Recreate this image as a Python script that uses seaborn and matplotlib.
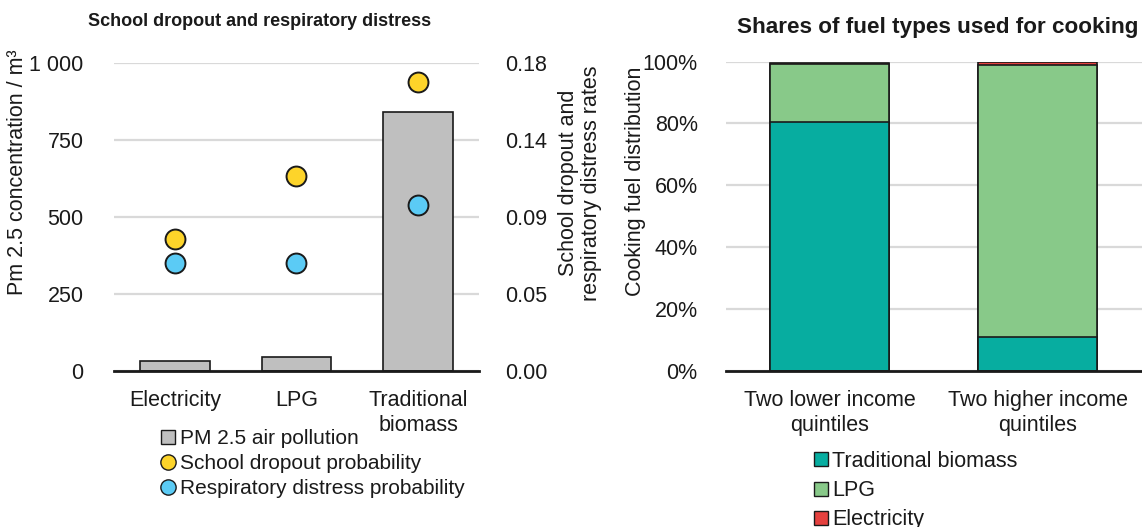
import numpy as np
import pandas as pd
import matplotlib
matplotlib.use("Agg")
import matplotlib.pyplot as plt
from matplotlib.lines import Line2D
import seaborn as sns

# ---- data -------------------------------------------------------------
fuels = ["Electricity", "LPG", "Traditional biomass"]
fuel_labels = ["Electricity", "LPG", "Traditional\nbiomass"]
pm25 = [32, 44, 843]                       # PM 2.5 concentration
dropout_prob = [0.077, 0.114, 0.169]       # school dropout probability
respiratory_prob = [0.063, 0.063, 0.097]   # respiratory distress probability

pm_ticks = [0, 250, 500, 750, 1000]
pm_ticklabels = ["0", "250", "500", "750", "1 000"]
rate_ticks = [0.0, 0.045, 0.09, 0.135, 0.18]
rate_ticklabels = ["0.00", "0.05", "0.09", "0.14", "0.18"]

groups = ["Two lower income quintiles", "Two higher income quintiles"]
group_labels = ["Two lower income\nquintiles", "Two higher income\nquintiles"]
share_biomass = [0.804, 0.110]
share_lpg = [0.188, 0.880]
share_electricity = [0.003, 0.008]
share_ticks = [0, 0.2, 0.4, 0.6, 0.8, 1.0]
share_ticklabels = ["0%", "20%", "40%", "60%", "80%", "100%"]

# ---- style ------------------------------------------------------------
sns.set_theme(style="white")
plt.rcParams["font.family"] = ["Liberation Sans", "DejaVu Sans"]
plt.rcParams["text.color"] = "#1a1a1a"

C_GRAY = "#bfbfbf"
C_YELLOW = "#fdd42a"
C_BLUE = "#5bcbf5"
C_TEAL = "#07ada0"
C_GREEN = "#88c989"
C_RED = "#e5413f"
C_GRID = "#d9d9d9"
C_EDGE = "#1a1a1a"

W, H = 1142, 527
fig = plt.figure(figsize=(W / 100, H / 100), dpi=100)

def frac_box(x0, y_top, x1, y_bot):
    return [x0 / W, 1 - y_bot / H, (x1 - x0) / W, (y_bot - y_top) / H]

TICK_FS = 15.5

def style_axis(ax):
    for s in ["left", "right", "top"]:
        ax.spines[s].set_visible(False)
    ax.spines["bottom"].set_visible(True)
    ax.spines["bottom"].set_color(C_EDGE)
    ax.spines["bottom"].set_linewidth(2.0)
    ax.grid(axis="y", color=C_GRID, linewidth=1.6)
    ax.grid(axis="x", visible=False)
    ax.set_axisbelow(True)
    ax.tick_params(axis="both", length=0, labelsize=TICK_FS, colors="#1a1a1a")

# ---- left panel: PM 2.5 bars with probabilities on a secondary axis ---
ax1 = fig.add_axes(frac_box(114, 63.3, 479, 371))
df_pm = pd.DataFrame({"fuel": fuels, "pm": pm25})
sns.barplot(data=df_pm, x="fuel", y="pm", ax=ax1, color=C_GRAY,
            saturation=1, width=0.57, edgecolor=C_EDGE, linewidth=1.2)
style_axis(ax1)
ax1.set_xlim(-0.5, 2.5)
ax1.set_ylim(0, 1000)
ax1.set_yticks(pm_ticks)
ax1.set_yticklabels(pm_ticklabels)
ax1.set_xticks(range(len(fuels)))
ax1.set_xticklabels(fuel_labels, linespacing=1.25)
ax1.tick_params(axis="x", pad=14)
ax1.tick_params(axis="y", pad=22)
ax1.set_xlabel("")
ax1.set_ylabel("")

ax2 = ax1.twinx()
df_rate = pd.DataFrame({"fuel": fuels, "dropout": dropout_prob,
                        "resp": respiratory_prob})
sns.scatterplot(data=df_rate, x="fuel", y="dropout", ax=ax2, color=C_YELLOW,
                s=205, edgecolor=C_EDGE, linewidth=1.4, zorder=5, legend=False)
sns.scatterplot(data=df_rate, x="fuel", y="resp", ax=ax2, color=C_BLUE,
                s=205, edgecolor=C_EDGE, linewidth=1.4, zorder=5, legend=False)
for s in ["left", "right", "top", "bottom"]:
    ax2.spines[s].set_visible(False)
ax2.grid(False)
ax2.set_ylim(0, 0.18)
ax2.set_yticks(rate_ticks)
ax2.set_yticklabels(rate_ticklabels)
ax2.tick_params(axis="y", length=0, labelsize=TICK_FS, pad=19, colors="#1a1a1a")
ax2.set_xlim(-0.5, 2.5)
ax2.set_xlabel("")
ax2.set_ylabel("")

fig.text(260 / W, 1 - 22 / H, "School dropout and respiratory distress",
         ha="center", va="center", fontsize=13, fontweight="bold")
fig.text(18 / W, 1 - 172 / H, "Pm 2.5 concentration / m³", rotation=90,
         ha="center", va="center", fontsize=TICK_FS)
fig.text(580 / W, 1 - 183 / H, "School dropout and\nrespiratory distress rates",
         rotation=90, ha="center", va="center", fontsize=TICK_FS,
         multialignment="center", linespacing=1.1)

left_handles = [
    Line2D([], [], linestyle="none", marker="s", markersize=10,
           markerfacecolor=C_GRAY, markeredgecolor=C_EDGE, markeredgewidth=1.0),
    Line2D([], [], linestyle="none", marker="o", markersize=11,
           markerfacecolor=C_YELLOW, markeredgecolor=C_EDGE, markeredgewidth=1.0),
    Line2D([], [], linestyle="none", marker="o", markersize=11,
           markerfacecolor=C_BLUE, markeredgecolor=C_EDGE, markeredgewidth=1.0),
]
fig.legend(left_handles,
           ["PM 2.5 air pollution", "School dropout probability",
            "Respiratory distress probability"],
           loc="upper left", bbox_to_anchor=(160 / W, 1 - 429 / H),
           frameon=False, fontsize=15, handlelength=0.8, handletextpad=0.15,
           labelspacing=0.3, borderpad=0, borderaxespad=0)

# ---- right panel: stacked shares of cooking fuels ---------------------
ax3 = fig.add_axes(frac_box(725.5, 61.5, 1141.5, 371))
tot_all = np.array(share_biomass) + np.array(share_lpg) + np.array(share_electricity)
tot_bl = np.array(share_biomass) + np.array(share_lpg)
df_share = pd.DataFrame({"group": groups, "all": tot_all, "bl": tot_bl,
                         "b": share_biomass})
for col, colr in [("all", C_RED), ("bl", C_GREEN), ("b", C_TEAL)]:
    sns.barplot(data=df_share, x="group", y=col, ax=ax3, color=colr,
                saturation=1, width=0.57, edgecolor=C_EDGE, linewidth=1.2)
style_axis(ax3)
ax3.set_xlim(-0.5, 1.5)
ax3.set_ylim(0, 1.0)
ax3.set_yticks(share_ticks)
ax3.set_yticklabels(share_ticklabels)
ax3.set_xticks(range(len(groups)))
ax3.set_xticklabels(group_labels, linespacing=1.25)
ax3.tick_params(axis="x", pad=14)
ax3.tick_params(axis="y", pad=20)
ax3.set_xlabel("")
ax3.set_ylabel("")

fig.text(938 / W, 1 - 28 / H, "Shares of fuel types used for cooking",
         ha="center", va="center", fontsize=16.2, fontweight="bold")
fig.text(635 / W, 1 - 181 / H, "Cooking fuel distribution", rotation=90,
         ha="center", va="center", fontsize=TICK_FS)

right_handles = [
    Line2D([], [], linestyle="none", marker="s", markersize=10,
           markerfacecolor=c, markeredgecolor=C_EDGE, markeredgewidth=1.0)
    for c in [C_TEAL, C_GREEN, C_RED]
]
fig.legend(right_handles, ["Traditional biomass", "LPG", "Electricity"],
           loc="upper left", bbox_to_anchor=(812 / W, 1 - 451 / H),
           frameon=False, fontsize=15.5, handlelength=0.8, handletextpad=0.15,
           labelspacing=0.38, borderpad=0, borderaxespad=0)

fig.savefig("out.png", dpi=100, facecolor="white")
